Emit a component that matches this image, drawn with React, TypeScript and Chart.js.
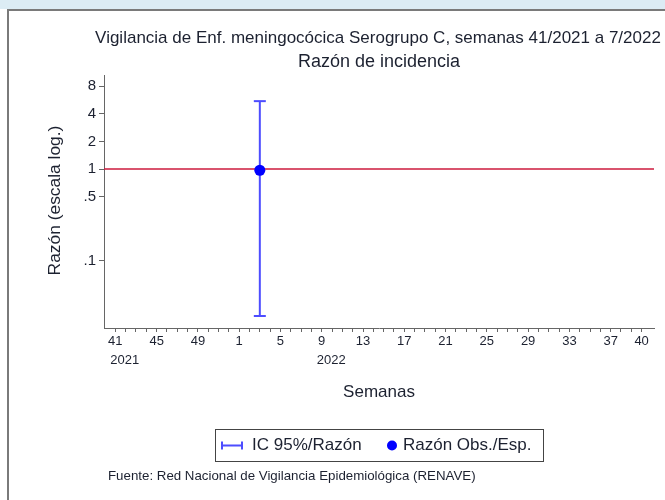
import React, { useEffect, useRef } from 'react';
import { Chart, registerables } from 'chart.js';

Chart.register(...registerables);

// ---- data ----
const titleLines = [
  'Vigilancia de Enf. meningocócica Serogrupo C, semanas 41/2021 a 7/2022',
  'Razón de incidencia',
];
const xAxisTitle = 'Semanas';
const yAxisTitle = 'Razón (escala log.)';
const sourceText = 'Fuente: Red Nacional de Vigilancia Epidemiológica (RENAVE)';

// week of year for each position on the x axis (41/2021 ... 40/2022)
const weekLabels = [
  '41', '42', '43', '44', '45', '46', '47', '48', '49', '50', '51', '52',
  '1', '2', '3', '4', '5', '6', '7', '8', '9', '10', '11', '12', '13', '14',
  '15', '16', '17', '18', '19', '20', '21', '22', '23', '24', '25', '26',
  '27', '28', '29', '30', '31', '32', '33', '34', '35', '36', '37', '38',
  '39', '40',
];
const labeledWeekIndex = [0, 4, 8, 12, 16, 20, 24, 28, 32, 36, 40, 44, 48, 51];
const yearTexts = ['2021', '2022'];
const yearWeekIndex = [0, 20];

const yTicks = [0.1, 0.5, 1, 2, 4, 8];
const yTickLabels = ['.1', '.5', '1', '2', '4', '8'];

// observed / expected ratio with 95% CI
const obsWeekIndex = [14];
const obsRatio = [0.97];
const ciLower = [0.025];
const ciUpper = [5.5];
const referenceRatio = 1;

const legendLabels = ['IC 95%/Razón', 'Razón Obs./Esp.'];

const X_MIN = -1.1;
const X_MAX = 52.2;
const Y_MIN = 0.0185;
const Y_MAX = 10.6;

const FONT = '"Liberation Sans", Arial, Helvetica, sans-serif';
const TEXT = '#1c2130';
const AXIS = '#666666';
const CI_COLOR = '#4d4dff';
const DOT_COLOR = '#0000ff';
const REF_COLOR = '#cc1a3c';

const App = () => {
  const ref = useRef<HTMLCanvasElement>(null);

  useEffect(() => {
    document.body.style.margin = '0';
    const canvas = ref.current!;

    const ciData: any[] = [];
    obsWeekIndex.forEach((wi, i) => {
      if (i > 0) ciData.push({ x: wi, y: null });
      ciData.push({ x: wi, y: ciLower[i] });
      ciData.push({ x: wi, y: ciUpper[i] });
    });

    const decor = {
      id: 'decor',
      afterDraw(chart: any) {
        const ctx = chart.ctx;
        const area = chart.chartArea;
        const xs = chart.scales.x;
        const cx = (area.left + area.right) / 2;
        ctx.save();
        ctx.fillStyle = TEXT;
        ctx.textBaseline = 'middle';
        // titles
        ctx.textAlign = 'center';
        ctx.font = `17px ${FONT}`;
        ctx.fillText(titleLines[0], cx - 1, 38);
        ctx.font = `18px ${FONT}`;
        ctx.fillText(titleLines[1], cx, 62);
        // x axis title
        ctx.font = `17px ${FONT}`;
        ctx.fillText(xAxisTitle, cx, 392);
        // y axis title
        ctx.save();
        ctx.translate(55, (area.top + area.bottom) / 2 - 1);
        ctx.rotate(-Math.PI / 2);
        ctx.font = `17.4px ${FONT}`;
        ctx.fillText(yAxisTitle, 0, 0);
        ctx.restore();
        // year labels
        ctx.textAlign = 'left';
        ctx.font = `13px ${FONT}`;
        yearTexts.forEach((t, i) => {
          const px = xs.getPixelForValue(yearWeekIndex[i]);
          ctx.fillText(t, px - 5, 360);
        });
        // legend
        const lx = 215, ly = 429, lw = 328, lh = 32;
        ctx.strokeStyle = '#444';
        ctx.lineWidth = 1;
        ctx.strokeRect(lx + 0.5, ly + 0.5, lw, lh);
        const my = ly + lh / 2 + 0.5;
        ctx.strokeStyle = CI_COLOR;
        ctx.lineWidth = 2;
        ctx.beginPath();
        ctx.moveTo(222, my);
        ctx.lineTo(242, my);
        ctx.moveTo(222, my - 4);
        ctx.lineTo(222, my + 4);
        ctx.moveTo(242, my - 4);
        ctx.lineTo(242, my + 4);
        ctx.stroke();
        ctx.fillStyle = DOT_COLOR;
        ctx.beginPath();
        ctx.arc(392, my, 5, 0, Math.PI * 2);
        ctx.fill();
        ctx.fillStyle = TEXT;
        ctx.font = `17px ${FONT}`;
        ctx.fillText(legendLabels[0], 252, my);
        ctx.fillText(legendLabels[1], 403, my);
        // source
        ctx.font = `13.3px ${FONT}`;
        ctx.fillText(sourceText, 108, 476);
        ctx.restore();
      },
    };

    const chart = new Chart(canvas, {
      type: 'line',
      data: {
        datasets: [
          {
            type: 'scatter',
            label: legendLabels[1],
            data: obsWeekIndex.map((wi, i) => ({ x: wi, y: obsRatio[i] })),
            pointRadius: 5.5,
            pointBackgroundColor: DOT_COLOR,
            pointBorderWidth: 0,
            showLine: false,
            order: 0,
          } as any,
          {
            label: legendLabels[0],
            data: ciData,
            borderColor: CI_COLOR,
            borderWidth: 2,
            pointStyle: 'line',
            pointRadius: 6,
            pointBorderWidth: 2,
            pointBorderColor: CI_COLOR,
            spanGaps: false,
            order: 1,
          },
          {
            label: 'ref',
            data: [
              { x: X_MIN, y: referenceRatio },
              { x: X_MAX, y: referenceRatio },
            ],
            borderColor: REF_COLOR,
            borderWidth: 1.5,
            pointRadius: 0,
            order: 2,
          },
        ],
      },
      options: {
        responsive: false,
        animation: false,
        devicePixelRatio: 1,
        layout: { padding: { top: 75, right: 11, bottom: 132, left: 0 } },
        plugins: {
          legend: { display: false },
          title: { display: false },
          tooltip: { enabled: false },
        },
        scales: {
          x: {
            type: 'linear',
            min: X_MIN,
            max: X_MAX,
            afterBuildTicks: (s: any) => {
              s.ticks = weekLabels.map((_, i) => ({ value: i }));
            },
            afterFit: (s: any) => {
              s.height = 40;
            },
            ticks: {
              autoSkip: false,
              maxRotation: 0,
              minRotation: 0,
              padding: 2,
              color: TEXT,
              font: { family: FONT, size: 13 },
              callback: (v: any) =>
                labeledWeekIndex.includes(v) ? weekLabels[v] : '',
            },
            grid: {
              drawOnChartArea: false,
              drawTicks: true,
              tickLength: 4,
              color: AXIS,
            },
            border: { display: true, color: AXIS, width: 1 },
          },
          y: {
            type: 'logarithmic',
            min: Y_MIN,
            max: Y_MAX,
            afterBuildTicks: (s: any) => {
              s.ticks = yTicks.map((v) => ({ value: v }));
            },
            afterFit: (s: any) => {
              s.width = 104;
            },
            ticks: {
              padding: 3,
              color: TEXT,
              font: { family: FONT, size: 15 },
              callback: (v: any) => yTickLabels[yTicks.indexOf(v)],
            },
            grid: {
              drawOnChartArea: false,
              drawTicks: true,
              tickLength: 5,
              color: AXIS,
            },
            border: { display: true, color: AXIS, width: 1 },
          },
        },
      } as any,
      plugins: [decor],
    });

    return () => chart.destroy();
  }, []);

  return (
    <div
      style={{
        position: 'relative',
        width: 665,
        height: 500,
        background: '#ffffff',
        overflow: 'hidden',
      }}
    >
      <div
        style={{
          position: 'absolute',
          left: 0,
          top: 0,
          width: 665,
          height: 9,
          background: '#dcecf4',
        }}
      />
      <div
        style={{
          position: 'absolute',
          left: 7,
          top: 9,
          width: 700,
          height: 520,
          borderTop: '2px solid #7a7a7a',
          borderLeft: '2px solid #7a7a7a',
        }}
      />
      <canvas
        ref={ref}
        width={665}
        height={500}
        style={{ position: 'absolute', left: 0, top: 0 }}
      />
    </div>
  );
};

export default App;
